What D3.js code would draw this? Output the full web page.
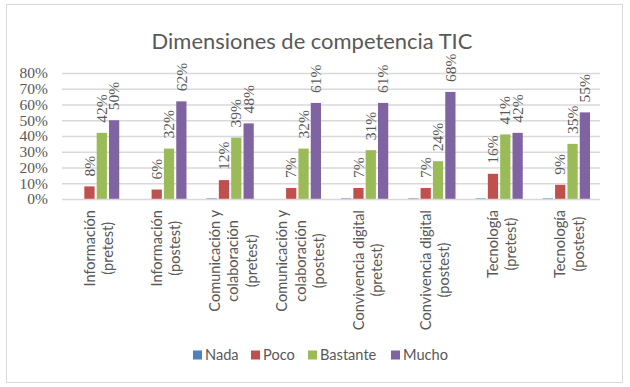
<!DOCTYPE html>
<html><head><meta charset="utf-8">
<script src="https://cdn.jsdelivr.net/npm/d3@7/dist/d3.min.js"></script>
<style>body{margin:0;background:#fff}svg{display:block}</style>
</head><body>
<svg id="c" width="630" height="387"></svg>
<script>
const categories = [
  ["Información","(pretest)"],
  ["Información","(postest)"],
  ["Comunicación y","colaboración","(pretest)"],
  ["Comunicación y","colaboración","(postest)"],
  ["Convivencia digital","(pretest)"],
  ["Convivencia digital","(postest)"],
  ["Tecnología","(pretest)"],
  ["Tecnología","(postest)"]
];
const seriesNames = ["Nada","Poco","Bastante","Mucho"];
const nada     = [0, 0, 0.4, 0, 0.4, 0.4, 0.4, 0.4];
const poco     = [8, 6, 12, 7, 7, 7, 16, 9];
const bastante = [42, 32, 39, 32, 31, 24, 41, 35];
const mucho    = [50, 62, 48, 61, 61, 68, 42, 55];
const yTicks = [0,10,20,30,40,50,60,70,80];
const colors = ["#4F81BD","#C0504D","#9BBB59","#8064A2"];
const showLabels = [false,true,true,true];
const title = "Dimensiones de competencia TIC";

const seriesValues = [nada, poco, bastante, mucho];
const svg = d3.select("#c");
const sans = "Lato, Open Sans, sans-serif";
const serifFont = "Liberation Serif";
const gray = "#595959";

svg.append("rect").attr("x",6.5).attr("y",4.5).attr("width",616).attr("height",378)
  .attr("fill","#fff").attr("stroke","#d9d9d9").attr("stroke-width",1);

// title
const t = svg.append("text").attr("x",312).attr("y",49).attr("text-anchor","middle")
  .attr("font-family",sans).attr("font-size",24).attr("fill",gray).text(title);
const tw = t.node().getComputedTextLength();
t.attr("font-size", 24*321/tw);

const pLeft=62, pRight=600, pTop=73, pBottom=199;
const y = d3.scaleLinear().domain([0,80]).range([pBottom,pTop]);
const idx = categories.map((d,i)=>i);
const x0 = d3.scaleBand().domain(idx).range([pLeft,pRight]).padding(0);
const x1 = d3.scaleBand().domain(d3.range(4)).range([10, x0.bandwidth()-10]).paddingInner(0.17);

// gridlines
svg.append("g").selectAll("line").data(yTicks.filter(d=>d>0)).join("line")
  .attr("x1",pLeft).attr("x2",pRight).attr("y1",d=>y(d)+0.5).attr("y2",d=>y(d)+0.5)
  .attr("stroke","#d9d9d9").attr("stroke-width",1.3);

// y axis labels
const yAxis = d3.axisLeft(y).tickValues(yTicks).tickFormat(d=>d+"%").tickSize(0).tickPadding(0);
const ga = svg.append("g").attr("transform",`translate(48,0)`).call(yAxis);
ga.attr("font-family",serifFont).attr("font-size",15.5);
ga.select(".domain").remove();
ga.selectAll("text").attr("font-family",serifFont).attr("font-size",15.5).attr("fill",gray);

// bars
const groups = svg.append("g").selectAll("g").data(idx).join("g")
  .attr("transform",i=>`translate(${x0(i)},0)`);
seriesValues.forEach((vals,s)=>{
  groups.append("rect")
    .attr("x",x1(s)).attr("width",x1.bandwidth())
    .attr("y",i=>y(vals[i])).attr("height",i=>pBottom-y(vals[i]))
    .attr("fill",colors[s]);
  if(showLabels[s]){
    groups.append("text")
      .attr("font-family",serifFont)
      .attr("transform",i=>`translate(${x1(s)+x1.bandwidth()/2},${y(vals[i])-10}) rotate(-90)`)
      .attr("dy","0.33em")
      .attr("font-size",15.5).attr("fill",gray)
      .text(i=>vals[i]+"%");
  }
});

// baseline
svg.append("line").attr("x1",pLeft).attr("x2",pRight).attr("y1",pBottom+0.5).attr("y2",pBottom+0.5)
  .attr("stroke","#d9d9d9").attr("stroke-width",1.3);

// x labels
const lh = 18.3;
groups.each(function(i){
  const lines = categories[i];
  const g = d3.select(this);
  const cx = x0.bandwidth()/2 + 3;
  const n = lines.length;
  const texts = lines.map((ln,k)=>g.append("text")
    .attr("font-family",sans).attr("font-size",14.6).attr("fill",gray)
    .attr("text-anchor","middle").attr("dy","0.35em").text(ln));
  const maxL = d3.max(texts, tx=>tx.node().getComputedTextLength());
  texts.forEach((tx,k)=>{
    const xx = cx + (k-(n-1)/2)*lh;
    tx.attr("transform",`translate(${xx},${210+maxL/2}) rotate(-90)`);
  });
});

// legend
const legendX = [193, 251, 308, 391];
const lg = svg.append("g").selectAll("g").data(seriesNames).join("g")
  .attr("transform",(d,i)=>`translate(${legendX[i]},355)`);
lg.append("rect").attr("x",0).attr("y",-4.5).attr("width",9).attr("height",9).attr("fill",(d,i)=>colors[i]);
lg.append("text").attr("x",12).attr("dy","0.35em").attr("font-family",sans).attr("font-size",14.6)
  .attr("fill",gray).text(d=>d);
</script>
</body></html>
